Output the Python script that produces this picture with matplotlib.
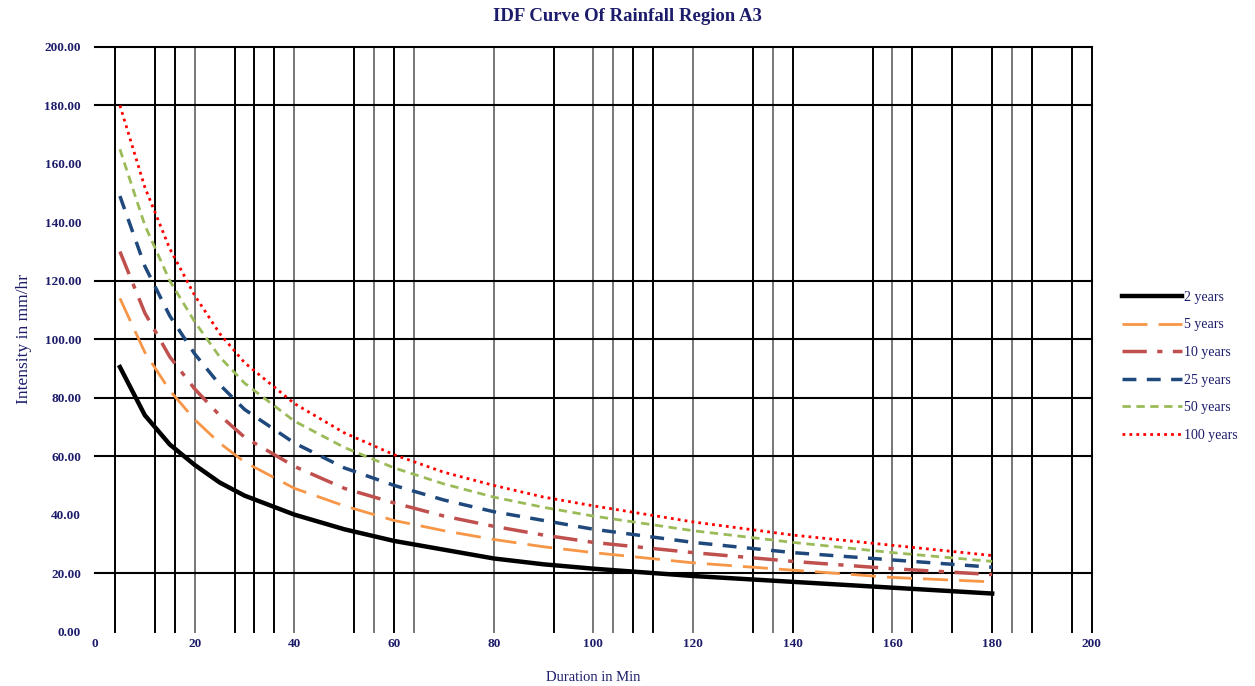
import matplotlib
matplotlib.use('Agg')
import matplotlib.pyplot as plt

# durations (min) and intensities (mm/hr)
duration = [5, 10, 15, 20, 25, 30, 40, 50, 60, 70, 80, 90, 100, 120, 140, 160, 180]
i_2 = [90.5, 74, 64, 57, 51, 46.5, 40, 35, 31, 28, 25, 23, 21.5, 19, 17, 15, 13]
i_5 = [114, 95.5, 82.5, 72.5, 64.5, 58, 49, 43, 38, 34.5, 31.5, 29, 27, 23.5, 21, 18.5, 17]
i_10 = [130, 109, 94, 83, 74, 66.5, 56.5, 49, 44, 39.5, 36, 33, 30.5, 27, 24, 21.5, 19.5]
i_25 = [149, 125, 108, 95, 84.5, 76, 64.5, 56, 50, 45, 41, 38, 35, 30.5, 27, 24.5, 22]
i_50 = [165, 139, 120, 106, 94, 85, 72, 63, 56, 50.5, 46, 42.5, 39.5, 34.5, 30.5, 27, 24]
i_100 = [180, 152, 131, 115, 102, 92, 78, 68, 60.5, 54.5, 50, 46, 43, 37.5, 33, 29.5, 26]

series_labels = ['2 years', '5 years', '10 years', '25 years', '50 years', '100 years']

# grid lines as drawn on the original sheet
hlines = [20, 60, 80, 100, 120, 180, 200]
vlines = [4, 12, 16, 20, 28, 32, 36, 40, 52, 56, 60, 64, 80, 92, 100, 104, 108, 112,
          120, 132, 136, 140, 156, 160, 164, 172, 180, 184, 188, 196, 200]
vlines_grey = [20, 40, 56, 64, 80, 100, 104, 120, 136, 160, 184]

navy = '#1c1c6b'
serif = ['Liberation Serif', 'DejaVu Serif']

fig = plt.figure(figsize=(12.55, 6.86), dpi=100)
ax = fig.add_axes([0.0757, 0.0794, 0.7943, 0.8521])

for x in vlines:
    c = '#777777' if x in vlines_grey else 'black'
    ax.plot([x, x], [0, 200], color=c, lw=1.4, zorder=1, clip_on=False)
for y in hlines:
    ax.plot([0, 200], [y, y], color='black', lw=1.5, zorder=1, clip_on=False)

ax.plot(duration, i_2, color='black', lw=3.2, label=series_labels[0], zorder=3)
ax.plot(duration, i_5, color='#f79646', lw=2, dashes=(9, 4), label=series_labels[1], zorder=3)
ax.plot(duration, i_10, color='#c0504d', lw=2.5, dashes=(7, 3, 1.5, 3), label=series_labels[2], zorder=3)
ax.plot(duration, i_25, color='#1f497d', lw=2.5, dashes=(4, 3), label=series_labels[3], zorder=3)
ax.plot(duration, i_50, color='#9bbb59', lw=2, dashes=(3, 2), label=series_labels[4], zorder=3)
ax.plot(duration, i_100, color='#ff0000', lw=2, dashes=(1, 1.5), label=series_labels[5], zorder=3)

ax.set_xlim(0, 200)
ax.set_ylim(0, 200)
ax.set_xticks(range(0, 201, 20))
ax.set_yticks(range(0, 201, 20))
ax.set_yticklabels(['%.2f' % v for v in range(0, 201, 20)])
ax.tick_params(length=0, labelsize=9.5, labelcolor=navy)
ax.tick_params(axis='y', pad=10)
ax.tick_params(axis='x', pad=5)
for lab in ax.get_xticklabels() + ax.get_yticklabels():
    lab.set_family(serif)
    lab.set_fontweight('bold')
for s in ax.spines.values():
    s.set_visible(False)

ax.set_xlabel('Duration in Min', family=serif, fontsize=10.5, color=navy, labelpad=15)
ax.set_ylabel('Intensity in mm/hr', family=serif, fontsize=12.5, color=navy, labelpad=9)
fig.suptitle('IDF Curve Of Rainfall Region A3', family=serif, fontsize=13.5, fontweight='bold',
             color=navy, x=0.5, y=0.988)

leg = fig.legend(loc='center left', bbox_to_anchor=(0.884, 0.466), frameon=False,
                 prop={'family': serif, 'size': 10}, handlelength=4.3, labelspacing=1.05,
                 handletextpad=0.15)
for t in leg.get_texts():
    t.set_color(navy)

fig.savefig('out.png', dpi=100)
